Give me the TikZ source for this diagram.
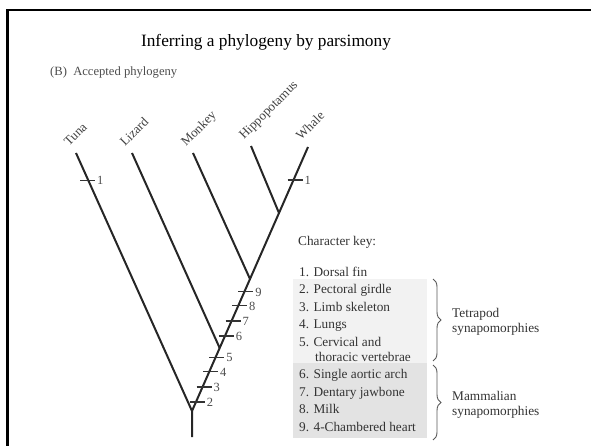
\documentclass[tikz,border=0pt]{standalone}
\usepackage{fontspec}
\setmainfont{Liberation Serif}
\usetikzlibrary{calc,decorations.pathreplacing}

\tikzset{
  branch/.style={line width=2pt, draw=black!85, line cap=butt},
  tickmark/.style={line width=1.1pt, draw=black!80},
  ticklabel/.style={anchor=west, inner sep=0pt, xshift=1.5pt,
    font=\fontsize{12.5}{14}\selectfont, text=black!70},
  leaf/.style={rotate=45, anchor=base west, inner sep=0pt,
    font=\fontsize{13}{15}\selectfont, text=black!75},
  keytext/.style={anchor=base west, inner sep=0pt,
    font=\fontsize{13.3}{15}\selectfont, text=black!80},
  grouplabel/.style={anchor=west, inner sep=0pt, align=left,
    font=\fontsize{13.3}{15.5}\selectfont, text=black!80},
  bracket/.style={draw=black!65, line width=0.9pt,
    decorate, decoration={brace, amplitude=8pt}},
}
\definecolor{boxlight}{HTML}{F2F2F2}
\definecolor{boxdark}{HTML}{E3E3E3}

\begin{document}
\begin{tikzpicture}[x=1pt, y=-1pt]
  \useasboundingbox (0,0) rectangle (591,446);

  % slide frame (left and top edges)
  \draw[line width=2.6pt, line join=miter] (7.7,446) -- (7.7,10) -- (591,10);

  % headings
  \node[font=\fontsize{17.3}{20}\selectfont] (title) at (266,42)
    {Inferring a phylogeny by parsimony};
  \node[anchor=base west, inner sep=0pt, font=\fontsize{12.6}{14}\selectfont,
    text=black!70] (panel) at (50,76) {(B)\ \ Accepted phylogeny};

  % tree skeleton
  \coordinate (base)   at (192,437);
  \coordinate (root)   at (192,411);
  \coordinate (tuna)   at (76,153);
  \coordinate (lizard) at (132,153);
  \coordinate (monkey) at (193,153);
  \coordinate (hippo)  at (251,146);
  \coordinate (whale)  at (308,147);
  \coordinate (jliz) at ($(root)!0.2386!(whale)$);
  \coordinate (jmon) at ($(root)!0.5!(whale)$);
  \coordinate (jhip) at ($(root)!0.75!(whale)$);

  \draw[branch, line join=miter] (base) -- (root) -- (tuna);
  \draw[branch] (root) -- (whale);
  \draw[branch] (jliz) -- (lizard);
  \draw[branch] (jmon) -- (monkey);
  \draw[branch] (jhip) -- (hippo);

  % taxon names
  \foreach \tx/\nm in {tuna/Tuna, lizard/Lizard, monkey/Monkey,
                       hippo/Hippopotamus, whale/Whale}
    \node[leaf] (lbl-\tx) at ($(\tx)+(-7,-6)$) {\nm};

  % character changes on the main lineage
  \foreach \n/\t in {2/0.034, 3/0.091, 4/0.148, 5/0.201,
                     6/0.284, 7/0.341, 8/0.398, 9/0.451}{
    \coordinate (c\n) at ($(root)!\t!(whale)$);
    \draw[tickmark] ([xshift=-6pt]c\n) -- ([xshift=9pt]c\n)
      node[ticklabel] (n\n) {\n};
  }
  % dorsal fin on tuna and whale
  \coordinate (c1a) at ($(tuna)!0.105!(root)$);
  \coordinate (c1b) at ($(whale)!0.125!(root)$);
  \draw[tickmark] ([xshift=-8pt]c1a) -- ([xshift=7pt]c1a) node[ticklabel] (n1a) {1};
  \draw[tickmark] ([xshift=-6pt]c1b) -- ([xshift=9pt]c1b) node[ticklabel] (n1b) {1};

  % character key
  \fill[boxlight] (293,279) rectangle (427,363);
  \fill[boxdark]  (293,363) rectangle (427,438);
  \node[keytext] (keyhead) at (298,245) {Character key:};
  \node[keytext] (k1) at (299,276) {1. Dorsal fin};
  \node[keytext] (k2) at (299,293) {2. Pectoral girdle};
  \node[keytext] (k3) at (299,311) {3. Limb skeleton};
  \node[keytext] (k4) at (299,328) {4. Lungs};
  \node[keytext] (k5) at (299,346) {5. Cervical and};
  \node[keytext] (k5b) at (315,361) {thoracic vertebrae};
  \node[keytext] (k6) at (299,378) {6. Single aortic arch};
  \node[keytext] (k7) at (299,396) {7. Dentary jawbone};
  \node[keytext] (k8) at (299,413) {8. Milk};
  \node[keytext] (k9) at (299,431) {9. 4-Chambered heart};

  % groupings
  \coordinate (b1t) at (433,279);
  \coordinate (b1b) at (433,361);
  \coordinate (b2t) at (433,365);
  \coordinate (b2b) at (433,440);
  \draw[bracket] (b1t) -- (b1b);
  \draw[bracket] (b2t) -- (b2b);
  \node[grouplabel] (tetra) at (452,322) {Tetrapod\\synapomorphies};
  \node[grouplabel] (mamma) at (452,405) {Mammalian\\synapomorphies};
\end{tikzpicture}
\end{document}
